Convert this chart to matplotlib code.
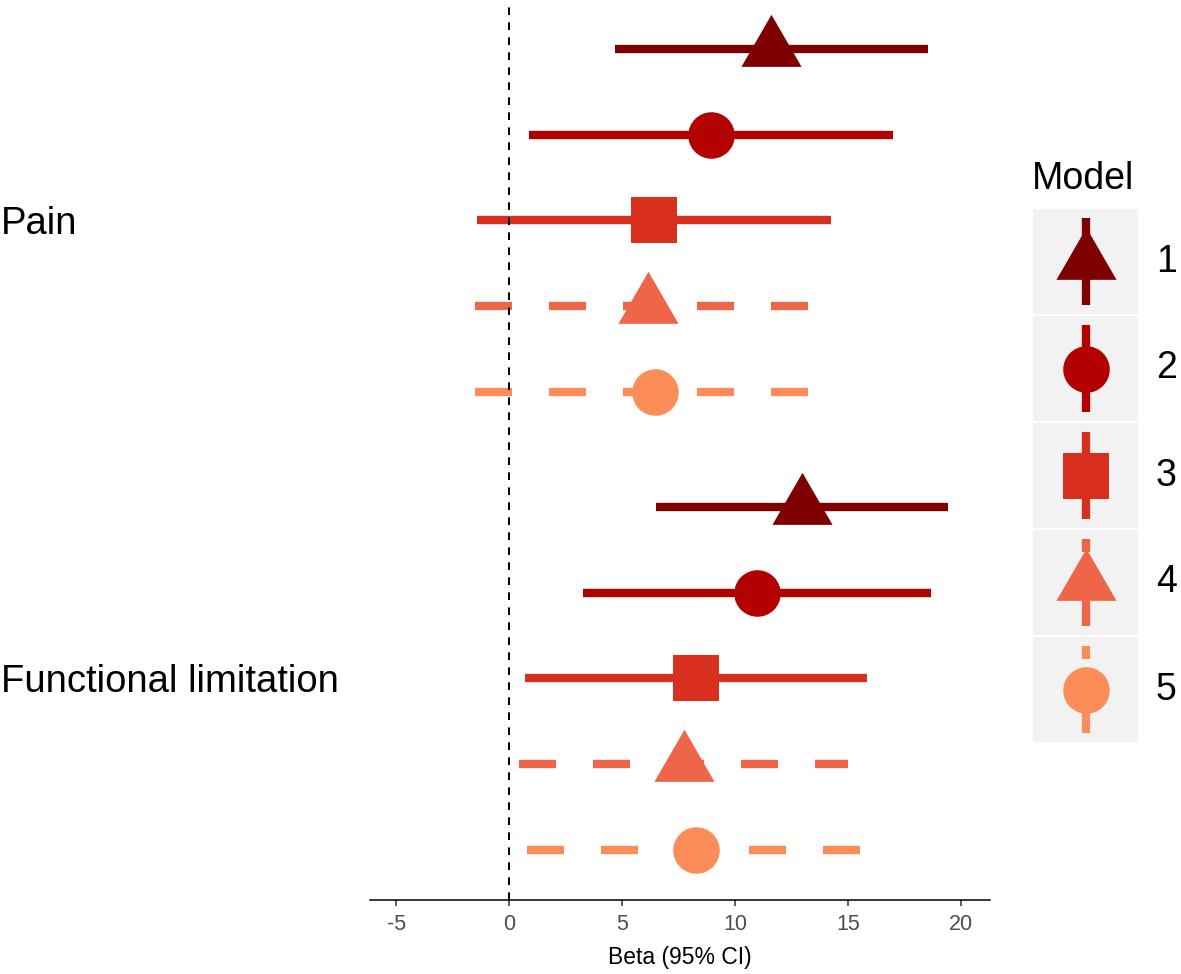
import matplotlib
matplotlib.use('Agg')
import matplotlib.pyplot as plt
from matplotlib.patches import Rectangle
import numpy as np

plt.rcParams['font.family'] = ['Liberation Sans', 'DejaVu Sans']

# ---------------- data ----------------
outcomes = ['Pain', 'Functional limitation']
models = ['1', '2', '3', '4', '5']
pain_beta = [11.60, 8.92, 6.39, 6.12, 6.45]
pain_lo = [4.66, 0.87, -1.45, -1.52, -1.52]
pain_hi = [18.53, 16.97, 14.24, 13.76, 14.42]
func_beta = [12.96, 10.98, 8.26, 7.72, 8.25]
func_lo = [6.49, 3.27, 0.71, 0.44, 0.79]
func_hi = [19.43, 18.68, 15.81, 15.00, 15.71]
xticks = [-5, 0, 5, 10, 15, 20]

colors = ['#7F0000', '#B30000', '#D7301F', '#EF6548', '#FC8D59']

# ---------------- styles ----------------
tri = [(-1.0, -0.577), (1.0, -0.577), (0.0, 1.155)]
shapes = [tri, 'o', 's', tri, 'o']
msizes = [50, 33.5, 32.8, 50, 33.5]
dashed = [False, False, False, True, True]
LW = 6.0
DASH = (4.44, 4.44)

W, H = 1181, 974
fig = plt.figure(figsize=(W / 100, H / 100), dpi=100)
ax = fig.add_axes([370 / W, 74 / H, 620 / W, 900 / H])

cat_pos = {'Pain': 2.0, 'Functional limitation': 1.0}
dodge = 0.187
series = {'Pain': (pain_beta, pain_lo, pain_hi),
          'Functional limitation': (func_beta, func_lo, func_hi)}

ax.axvline(0, color='black', lw=1.44, dashes=(3.8, 3.7), zorder=2.5)

for oc in outcomes:
    b, lo, hi = series[oc]
    for i in range(len(models)):
        y = cat_pos[oc] + (2 - i) * dodge
        kw = dict(color=colors[i], lw=LW, solid_capstyle='butt',
                  dash_capstyle='butt', zorder=2)
        if dashed[i]:
            kw['dashes'] = DASH
        ax.plot([lo[i], hi[i]], [y, y], **kw)
        ax.plot([b[i]], [y], marker=shapes[i], ms=msizes[i], mew=0,
                color=colors[i], linestyle='none', zorder=3)

ax.set_xlim((370 - 509.3) / 22.6, (990 - 509.3) / 22.6)
ax.set_ylim(0.516, 2.481)
for s in ['top', 'right', 'left']:
    ax.spines[s].set_visible(False)
ax.spines['bottom'].set_linewidth(1.1)
ax.spines['bottom'].set_color('black')

ax.set_xticks(xticks)
ax.set_xticklabels([str(t) for t in xticks])
ax.tick_params(axis='x', length=4.3, width=1.1, color='#333333',
               labelcolor='#4D4D4D', labelsize=15.5, pad=5.5)
ax.set_xlabel('Beta (95% CI)', fontsize=16.5, color='black', labelpad=8)

ax.set_yticks([cat_pos[o] for o in outcomes])
ax.set_yticklabels(outcomes)
ax.tick_params(axis='y', length=0, pad=(370 - 1) / 1.3889, labelsize=27.5,
               labelcolor='black')
for lbl in ax.get_yticklabels():
    lbl.set_horizontalalignment('left')

# ---------------- legend (drawn in figure pixel space) ----------------
lg = fig.add_axes([0, 0, 1, 1], facecolor='none')
lg.set_xlim(0, W)
lg.set_ylim(H, 0)
lg.axis('off')

lg.text(1032, 179, 'Model', fontsize=27, ha='left', va='center', color='black')
kx0, kx1 = 1033, 1138
kh, kgap, ktop = 105, 2, 209
cx = (kx0 + kx1) / 2
for i, m in enumerate(models):
    top = ktop + i * (kh + kgap)
    bot = top + kh
    cy = (top + bot) / 2
    lg.add_patch(Rectangle((kx0, top), kx1 - kx0, kh, facecolor='#F2F2F2',
                           edgecolor='none', zorder=1))
    kw = dict(color=colors[i], lw=LW, solid_capstyle='butt',
              dash_capstyle='butt', zorder=2)
    if dashed[i]:
        kw['dashes'] = DASH
    lg.plot([cx, cx], [bot - 0.09 * kh, top + 0.09 * kh], **kw)
    lg.plot([cx], [cy], marker=shapes[i], ms=msizes[i], mew=0,
            color=colors[i], linestyle='none', zorder=3)
    lg.text(1156, cy, m, fontsize=27, ha='left', va='center', color='black')

fig.savefig('out.png', dpi=100)
